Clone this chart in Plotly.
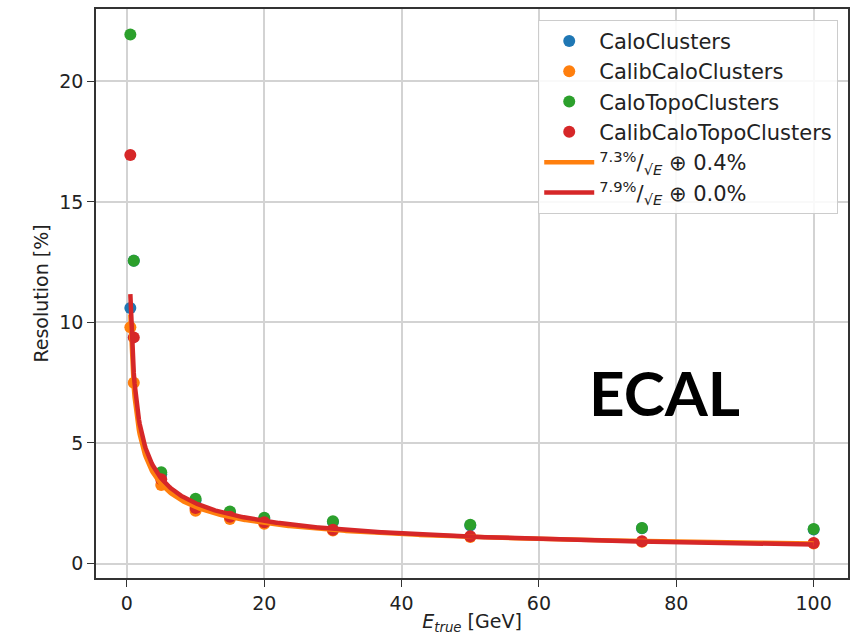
import numpy as np
import plotly.graph_objects as go

# Beam energies [GeV]
energies = [0.5, 1, 5, 10, 15, 20, 30, 50, 75, 100]

# Energy resolution [%] per cluster collection
calo_clusters = [10.6, 12.56, 3.70, 2.62, 2.12, 1.86, 1.72, 1.58, 1.46, 1.41]
calib_calo_clusters = [9.8, 7.5, 3.26, 2.19, 1.85, 1.65, 1.37, 1.10, 0.90, 0.83]
calo_topo_clusters = [21.94, 12.56, 3.79, 2.69, 2.16, 1.90, 1.75, 1.61, 1.47, 1.43]
calib_calo_topo_clusters = [16.94, 9.38, 3.50, 2.30, 1.94, 1.71, 1.40, 1.13, 0.92, 0.85]

# Fit parameters: sigma/E = a/sqrt(E) (+) c   [%]
fit_calib_stoch, fit_calib_const = 7.3, 0.4
fit_topo_stoch, fit_topo_const = 7.9, 0.0

x_ticks = [0, 20, 40, 60, 80, 100]
y_ticks = [0, 5, 10, 15, 20]

C_BLUE, C_ORANGE, C_GREEN, C_RED = "#1f77b4", "#ff7f0e", "#2ca02c", "#d62728"
FONT = "DejaVu Sans"


def resolution(e, a, c):
    e = np.asarray(e, dtype=float)
    return np.sqrt((a / np.sqrt(e)) ** 2 + c ** 2)


e_fine = np.linspace(min(energies), max(energies), 800)

fig = go.Figure()
for name, vals, col in [
    ("CaloClusters", calo_clusters, C_BLUE),
    ("CalibCaloClusters", calib_calo_clusters, C_ORANGE),
    ("CaloTopoClusters", calo_topo_clusters, C_GREEN),
    ("CalibCaloTopoClusters", calib_calo_topo_clusters, C_RED),
]:
    fig.add_trace(go.Scatter(
        x=energies, y=vals, mode="markers", name=name,
        marker=dict(color=col, size=12, line=dict(width=0)),
    ))

for a, c, col in [
    (fit_calib_stoch, fit_calib_const, C_ORANGE),
    (fit_topo_stoch, fit_topo_const, C_RED),
]:
    fig.add_trace(go.Scatter(
        x=e_fine, y=resolution(e_fine, a, c), mode="lines",
        name=f"<sup>{a:.1f}%</sup>/<sub>√<i>E</i></sub> ⊕ {c:.1f}%",
        line=dict(color=col, width=4.5),
    ))

fig.add_annotation(
    x=78.3, y=7.1, xref="x", yref="y", text="<b>ECAL</b>", showarrow=False,
    font=dict(family="Lato", size=62, color="black"),
)

axis_common = dict(
    showgrid=True, gridcolor="#d3d3d3", gridwidth=1.5,
    showline=True, linecolor="#333333", linewidth=1.5, mirror=True,
    ticks="outside", ticklen=7, tickwidth=1.2, tickcolor="#333333",
    zeroline=False, tickfont=dict(family=FONT, size=19, color="#222222"),
)

fig.update_layout(
    width=861, height=637,
    margin=dict(l=96, r=13, t=7, b=59),
    paper_bgcolor="white", plot_bgcolor="white",
    font=dict(family=FONT, size=19, color="#222222"),
    xaxis=dict(
        range=[-4.5, 105.0], tickvals=x_ticks,
        title=dict(text="<i>E<sub>true</sub></i> [GeV]", font=dict(size=19), standoff=2),
        **axis_common,
    ),
    yaxis=dict(
        range=[-0.6, 23.0], tickvals=y_ticks,
        title=dict(text="Resolution [%]", font=dict(size=19), standoff=6),
        **axis_common,
    ),
    legend=dict(
        x=0.987, y=0.981, xanchor="right", yanchor="top",
        bgcolor="rgba(255,255,255,0.85)", bordercolor="#cccccc", borderwidth=1,
        font=dict(family=FONT, size=21, color="#222222"),
        itemwidth=50, tracegroupgap=4,
    ),
    showlegend=True,
)

fig.write_html("out.html")
